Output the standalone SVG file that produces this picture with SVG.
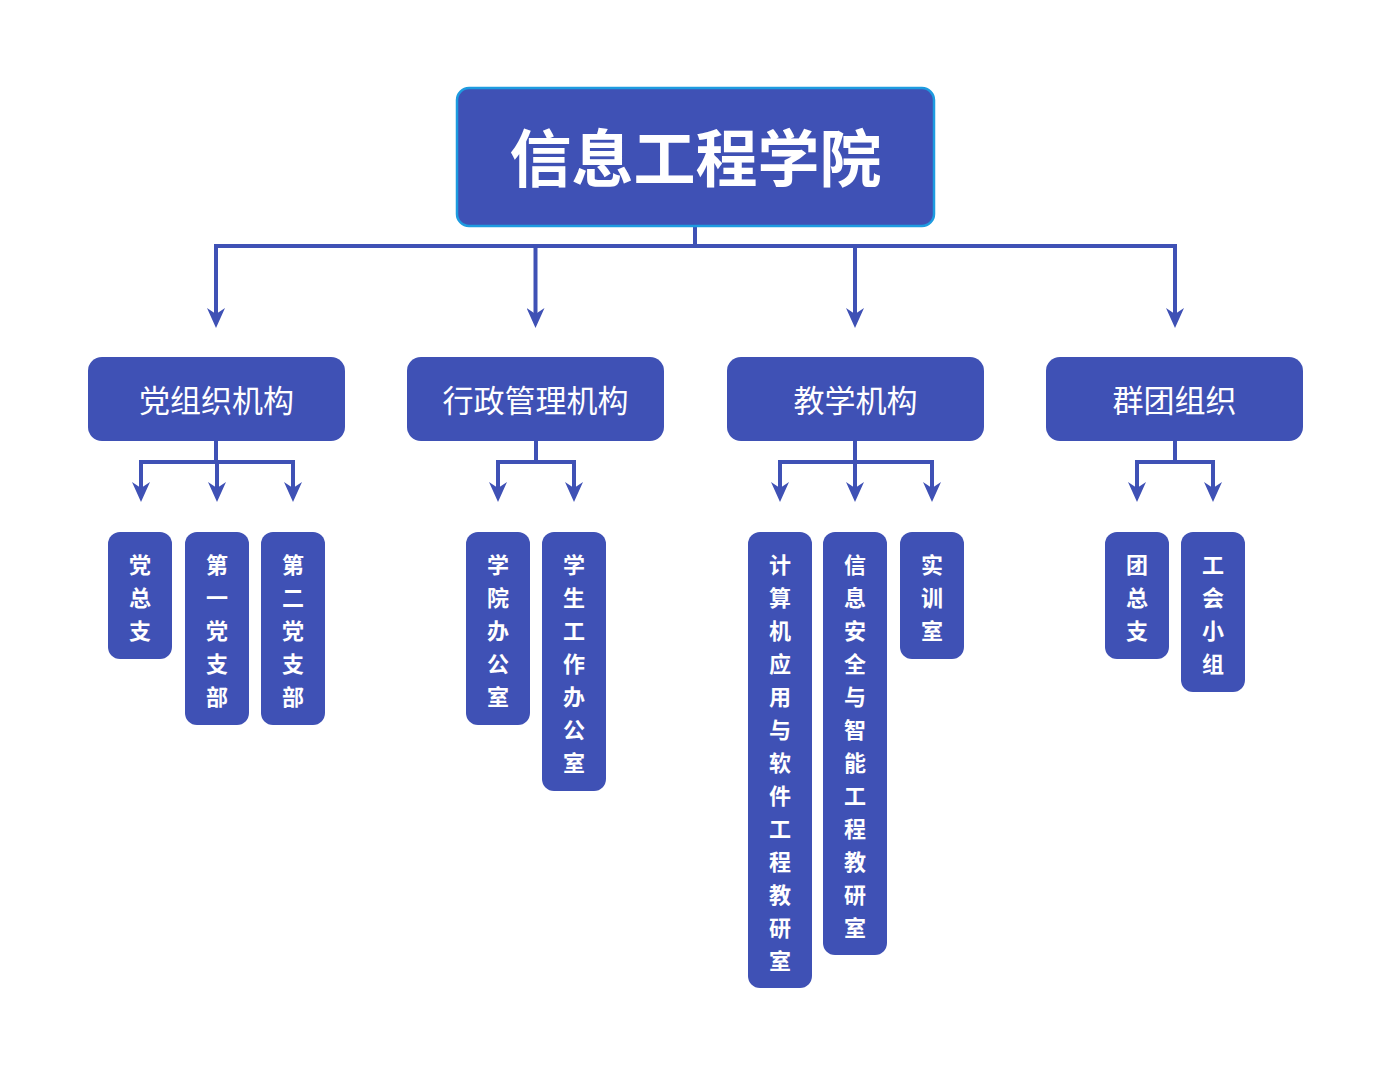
<svg xmlns="http://www.w3.org/2000/svg" width="1393" height="1077" viewBox="0 0 1393 1077">
<style>
.box{fill:#3F51B5}
.root{fill:#3F51B5;stroke:#1E9BE0;stroke-width:2.5}
.t{fill:#fff;font-family:"Noto Sans CJK SC","Noto Sans",sans-serif;text-anchor:middle}
.rt{font-size:62px;font-weight:bold}
.l2{font-size:31px}
.l3{font-size:22px;font-weight:bold}
.c{fill:none;stroke:#3F51B5;stroke-width:4}
.a{fill:none;stroke:#3F51B5;stroke-width:4;marker-end:url(#ah)}
</style>
<defs>
<marker id="ah" markerUnits="userSpaceOnUse" markerWidth="20" markerHeight="18" viewBox="0 0 20 18" refX="6" refY="9" orient="auto">
<path d="M0,0 L20,9 L0,18 L6,9 Z" fill="#3F51B5"/>
</marker>
</defs>
<rect width="1393" height="1077" fill="#fff"/>
<g id="connectors">
<path class="c" d="M695,226 V246 M214,246 H1177"/>
<path class="a" d="M216,244 V314"/>
<path class="a" d="M535.5,244 V314"/>
<path class="a" d="M855,244 V314"/>
<path class="a" d="M1175,244 V314"/>
<path class="c" d="M216,441 V462 M139,462 H295"/>
<path class="a" d="M141,460 V488"/>
<path class="a" d="M217,462 V488"/>
<path class="a" d="M293,460 V488"/>
<path class="c" d="M536,441 V462 M496,462 H576"/>
<path class="a" d="M498,460 V488"/>
<path class="a" d="M574,460 V488"/>
<path class="c" d="M855,441 V462 M778,462 H934"/>
<path class="a" d="M780,460 V488"/>
<path class="a" d="M855,462 V488"/>
<path class="a" d="M932,460 V488"/>
<path class="c" d="M1175,441 V462 M1135,462 H1215"/>
<path class="a" d="M1137,460 V488"/>
<path class="a" d="M1213,460 V488"/>
</g>
<g id="root">
<rect class="root" x="457" y="88" width="477" height="138" rx="12"/>
<text class="t rt" x="695.5" y="182">信息工程学院</text>
</g>
<g id="n-party">
<rect class="box" x="88" y="357" width="257" height="84" rx="14"/>
<text class="t l2" x="216.5" y="412">党组织机构</text>
</g>
<g id="n-admin">
<rect class="box" x="407" y="357" width="257" height="84" rx="14"/>
<text class="t l2" x="535.5" y="412">行政管理机构</text>
</g>
<g id="n-teach">
<rect class="box" x="727" y="357" width="257" height="84" rx="14"/>
<text class="t l2" x="855.5" y="412">教学机构</text>
</g>
<g id="n-group">
<rect class="box" x="1046" y="357" width="257" height="84" rx="14"/>
<text class="t l2" x="1174.5" y="412">群团组织</text>
</g>
<g id="leaf-1">
<rect class="box" x="108" y="532" width="64" height="127" rx="12"/>
<text class="t l3" x="140" y="573"><tspan x="140">党</tspan><tspan x="140" dy="33">总</tspan><tspan x="140" dy="33">支</tspan></text>
</g>
<g id="leaf-2">
<rect class="box" x="185" y="532" width="64" height="193" rx="12"/>
<text class="t l3" x="217" y="573"><tspan x="217">第</tspan><tspan x="217" dy="33">一</tspan><tspan x="217" dy="33">党</tspan><tspan x="217" dy="33">支</tspan><tspan x="217" dy="33">部</tspan></text>
</g>
<g id="leaf-3">
<rect class="box" x="261" y="532" width="64" height="193" rx="12"/>
<text class="t l3" x="293" y="573"><tspan x="293">第</tspan><tspan x="293" dy="33">二</tspan><tspan x="293" dy="33">党</tspan><tspan x="293" dy="33">支</tspan><tspan x="293" dy="33">部</tspan></text>
</g>
<g id="leaf-4">
<rect class="box" x="466" y="532" width="64" height="193" rx="12"/>
<text class="t l3" x="498" y="573"><tspan x="498">学</tspan><tspan x="498" dy="33">院</tspan><tspan x="498" dy="33">办</tspan><tspan x="498" dy="33">公</tspan><tspan x="498" dy="33">室</tspan></text>
</g>
<g id="leaf-5">
<rect class="box" x="542" y="532" width="64" height="259" rx="12"/>
<text class="t l3" x="574" y="573"><tspan x="574">学</tspan><tspan x="574" dy="33">生</tspan><tspan x="574" dy="33">工</tspan><tspan x="574" dy="33">作</tspan><tspan x="574" dy="33">办</tspan><tspan x="574" dy="33">公</tspan><tspan x="574" dy="33">室</tspan></text>
</g>
<g id="leaf-6">
<rect class="box" x="748" y="532" width="64" height="456" rx="12"/>
<text class="t l3" x="780" y="573"><tspan x="780">计</tspan><tspan x="780" dy="33">算</tspan><tspan x="780" dy="33">机</tspan><tspan x="780" dy="33">应</tspan><tspan x="780" dy="33">用</tspan><tspan x="780" dy="33">与</tspan><tspan x="780" dy="33">软</tspan><tspan x="780" dy="33">件</tspan><tspan x="780" dy="33">工</tspan><tspan x="780" dy="33">程</tspan><tspan x="780" dy="33">教</tspan><tspan x="780" dy="33">研</tspan><tspan x="780" dy="33">室</tspan></text>
</g>
<g id="leaf-7">
<rect class="box" x="823" y="532" width="64" height="423" rx="12"/>
<text class="t l3" x="855" y="573"><tspan x="855">信</tspan><tspan x="855" dy="33">息</tspan><tspan x="855" dy="33">安</tspan><tspan x="855" dy="33">全</tspan><tspan x="855" dy="33">与</tspan><tspan x="855" dy="33">智</tspan><tspan x="855" dy="33">能</tspan><tspan x="855" dy="33">工</tspan><tspan x="855" dy="33">程</tspan><tspan x="855" dy="33">教</tspan><tspan x="855" dy="33">研</tspan><tspan x="855" dy="33">室</tspan></text>
</g>
<g id="leaf-8">
<rect class="box" x="900" y="532" width="64" height="127" rx="12"/>
<text class="t l3" x="932" y="573"><tspan x="932">实</tspan><tspan x="932" dy="33">训</tspan><tspan x="932" dy="33">室</tspan></text>
</g>
<g id="leaf-9">
<rect class="box" x="1105" y="532" width="64" height="127" rx="12"/>
<text class="t l3" x="1137" y="573"><tspan x="1137">团</tspan><tspan x="1137" dy="33">总</tspan><tspan x="1137" dy="33">支</tspan></text>
</g>
<g id="leaf-10">
<rect class="box" x="1181" y="532" width="64" height="160" rx="12"/>
<text class="t l3" x="1213" y="573"><tspan x="1213">工</tspan><tspan x="1213" dy="33">会</tspan><tspan x="1213" dy="33">小</tspan><tspan x="1213" dy="33">组</tspan></text>
</g>
</svg>
